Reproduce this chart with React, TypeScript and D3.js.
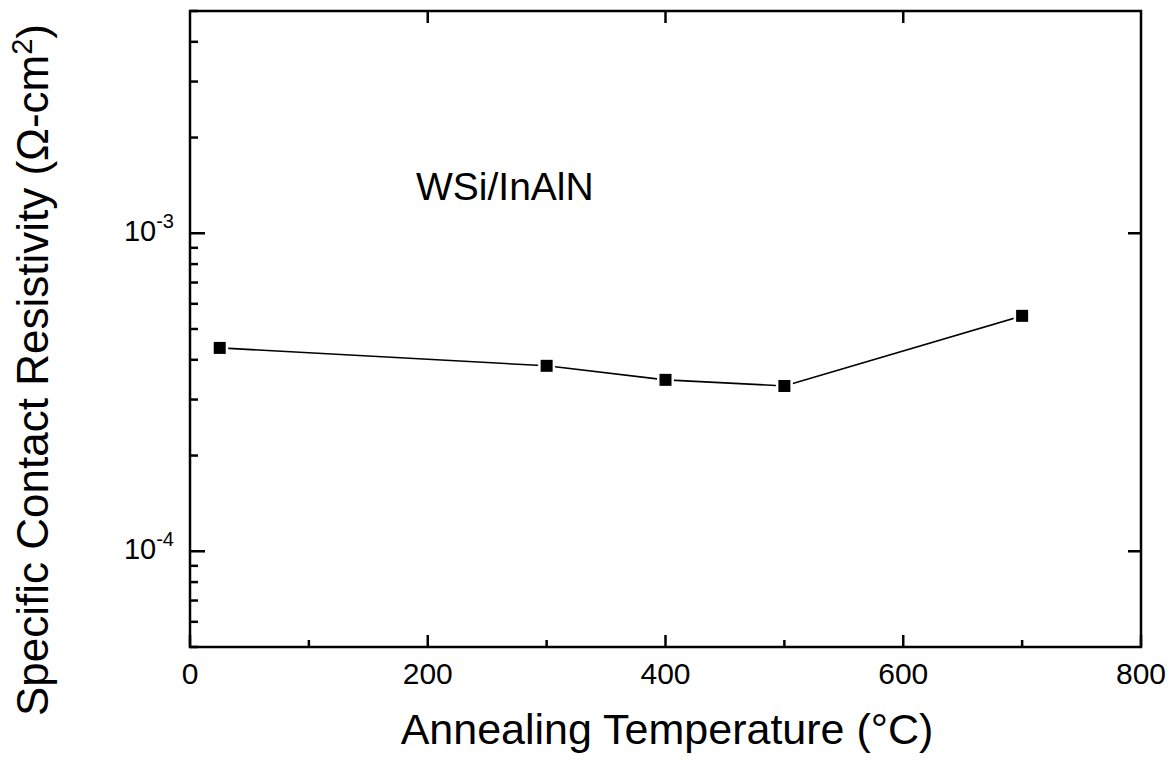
import React from 'react';
import * as d3 from 'd3';

// annealing temperature (°C) vs specific contact resistivity (ohm-cm^2)
const temps = [25, 300, 400, 500, 700];
const resistivity = [4.36e-4, 3.83e-4, 3.46e-4, 3.31e-4, 5.5e-4];

const xMajorTicks = [0, 200, 400, 600, 800];
const xMinorTicks = [100, 300, 500, 700];
const xTopTicks = [200, 400, 600];
const yMajorTicks = [1e-4, 1e-3];
const yMajorExp = ['-4', '-3'];

const W = 1174;
const H = 763;
const left = 190;
const right = 1141;
const top = 11;
const bottom = 647;

export default function App() {
  const x = d3.scaleLinear().domain([0, 800]).range([left, right]);
  const y = d3.scaleLog().domain([5e-5, 5e-3]).range([bottom, top]);

  const minorY = y.ticks().filter(t => !yMajorTicks.some(m => Math.abs(m - t) / m < 1e-6));

  const pts = temps.map((t, i) => [x(t), y(resistivity[i])] as [number, number]);
  const path = d3.line()(pts);

  const font = 'Liberation Sans, Arial, Helvetica, sans-serif';
  const sw = 2.5;

  return (
    <svg width={W} height={H} style={{ position: 'absolute', left: 0, top: 0, background: '#fff' }}
      fontFamily={font}>
      <rect x={0} y={0} width={W} height={H} fill="#fff" />

      {/* frame */}
      <rect x={left} y={top} width={right - left} height={bottom - top} fill="none" stroke="#000" strokeWidth={sw} />

      {/* bottom axis ticks */}
      {xMajorTicks.map(t => (
        <line key={'xm' + t} x1={x(t)} x2={x(t)} y1={bottom} y2={bottom - 12} stroke="#000" strokeWidth={sw} />
      ))}
      {xMinorTicks.map(t => (
        <line key={'xn' + t} x1={x(t)} x2={x(t)} y1={bottom} y2={bottom - 7} stroke="#000" strokeWidth={sw} />
      ))}
      {xTopTicks.map(t => (
        <line key={'xt' + t} x1={x(t)} x2={x(t)} y1={top} y2={top + 12} stroke="#000" strokeWidth={sw} />
      ))}
      {xMajorTicks.map(t => (
        <text key={'xl' + t} x={x(t)} y={684} fontSize={30} textAnchor="middle" fill="#000">{t}</text>
      ))}

      {/* left axis ticks */}
      {yMajorTicks.map(t => (
        <line key={'ym' + t} x1={left} x2={left + 15} y1={y(t)} y2={y(t)} stroke="#000" strokeWidth={sw} />
      ))}
      {minorY.map(t => (
        <line key={'yn' + t} x1={left} x2={left + 8} y1={y(t)} y2={y(t)} stroke="#000" strokeWidth={sw} />
      ))}
      {yMajorTicks.map(t => (
        <line key={'yr' + t} x1={right} x2={right - 13} y1={y(t)} y2={y(t)} stroke="#000" strokeWidth={sw} />
      ))}
      {yMajorTicks.map((t, i) => (
        <text key={'yl' + t} x={174} y={y(t) + 8} fontSize={29} textAnchor="end" fill="#000">
          10<tspan dy={-13} fontSize={20}>{yMajorExp[i]}</tspan>
        </text>
      ))}

      {/* data */}
      <path d={path ?? ''} fill="none" stroke="#000" strokeWidth={1.6} />
      {pts.map((p, i) => (
        <rect key={'pt' + i} x={p[0] - 6} y={p[1] - 6} width={12} height={12} fill="#000"
          stroke="#fff" strokeWidth={5} paintOrder="stroke" />
      ))}

      <text x={416} y={200} fontSize={39} fill="#000">WSi/InAlN</text>

      <text x={667} y={744} fontSize={43} textAnchor="middle" fill="#000">Annealing Temperature (°C)</text>
      <text transform={`translate(48, 370) rotate(-90)`} fontSize={44} textAnchor="middle" fill="#000">
        Specific Contact Resistivity (Ω-cm<tspan dy={-16} fontSize={29}>2</tspan><tspan dy={16}>)</tspan>
      </text>
    </svg>
  );
}
